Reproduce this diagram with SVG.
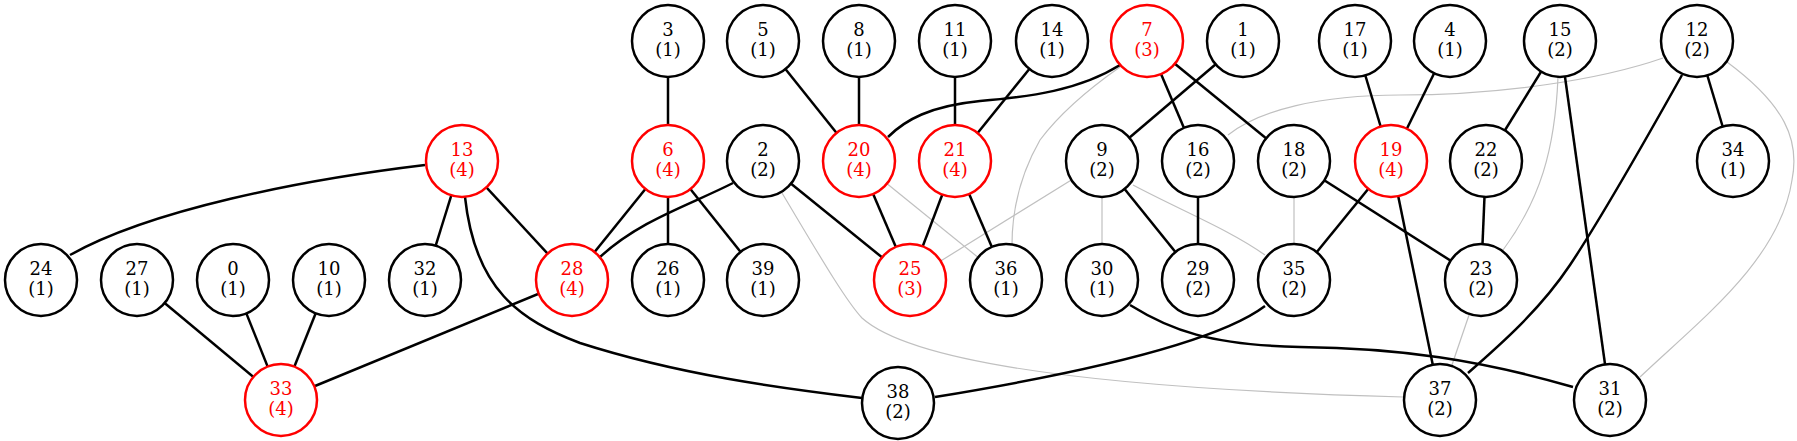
<svg xmlns="http://www.w3.org/2000/svg" width="1797" height="441" viewBox="0 0 1797 441">
<style>
.e{fill:none;stroke:#000;stroke-width:2.5}
.g{fill:none;stroke:#c0c0c0;stroke-width:1.2}
.n circle{fill:#fff;stroke:#000;stroke-width:2.5}
.n text{font-family:"DejaVu Serif",serif;font-size:18px;text-anchor:middle;fill:#000}
.r circle{stroke:#f00}
.r text{fill:#f00}
</style>
<rect width="1797" height="441" fill="#fff"/>
<g id="edges">
<path class="g" d="M1663,58 C1600,80 1500,95 1400,95 C1320,95 1260,110 1228,135"/>
<path class="g" d="M1727,62 C1785,105 1800,140 1792,180 C1780,260 1700,320 1640,377"/>
<path class="g" d="M1558,77 C1555,150 1540,200 1503,250"/>
<path class="g" d="M1481,280 L1440,400"/>
<path class="g" d="M782,193 C815,248 845,300 862,318 C920,370 1150,390 1403,397"/>
<path class="g" d="M1120,67 C1080,95 1055,120 1040,140 C1020,175 1012,210 1012,245"/>
<path class="g" d="M859,161 L1006,280"/>
<path class="g" d="M1102,161 L910,280"/>
<path class="g" d="M1102,161 L1102,280"/>
<path class="g" d="M1133,185 C1180,210 1230,230 1265,255"/>
<path class="g" d="M1294,161 L1294,280"/>
<path class="e" d="M70,255 C150,210 300,180 425,165"/>
<path class="e" d="M462,161 L425,280"/>
<path class="e" d="M462,161 L572,280"/>
<path class="e" d="M465,197 C475,290 520,320 580,343 C680,375 780,388 862,398"/>
<path class="e" d="M137,280 L281,400"/>
<path class="e" d="M233,280 L281,400"/>
<path class="e" d="M329,280 L281,400"/>
<path class="e" d="M572,280 L281,400"/>
<path class="e" d="M668,41 L668,161"/>
<path class="e" d="M668,161 L572,280"/>
<path class="e" d="M668,161 L668,280"/>
<path class="e" d="M668,161 L763,280"/>
<path class="e" d="M733,183 C690,205 640,220 600,257"/>
<path class="e" d="M763,161 L910,280"/>
<path class="e" d="M763,41 L859,161"/>
<path class="e" d="M859,41 L859,161"/>
<path class="e" d="M859,161 L910,280"/>
<path class="e" d="M1120,65 C1080,90 1030,97 980,101 C930,106 905,120 888,137"/>
<path class="e" d="M955,41 L955,161"/>
<path class="e" d="M1052,41 L955,161"/>
<path class="e" d="M955,161 L910,280"/>
<path class="e" d="M955,161 L1006,280"/>
<path class="e" d="M1147,41 L1198,161"/>
<path class="e" d="M1147,41 L1294,161"/>
<path class="e" d="M1243,41 L1102,161"/>
<path class="e" d="M1102,161 L1198,280"/>
<path class="e" d="M1198,161 L1198,280"/>
<path class="e" d="M1294,161 L1481,280"/>
<path class="e" d="M1391,161 L1294,280"/>
<path class="e" d="M1355,41 L1391,161"/>
<path class="e" d="M1450,41 L1391,161"/>
<path class="e" d="M1391,161 L1440,400"/>
<path class="e" d="M1560,41 L1486,161"/>
<path class="e" d="M1486,161 L1481,280"/>
<path class="e" d="M1560,41 L1610,400"/>
<path class="e" d="M1682,75 C1640,150 1600,220 1570,265 C1540,310 1500,345 1468,373"/>
<path class="e" d="M1697,41 L1733,161"/>
<path class="e" d="M1130,305 C1170,330 1210,345 1300,347 C1400,348 1480,360 1573,387"/>
<path class="e" d="M1265,306 C1220,340 1100,370 935,397"/>
</g>
<g id="n0" class="n"><circle cx="233" cy="280" r="36"/><text x="233" y="275">0</text><text x="233" y="294.5">(1)</text></g>
<g id="n1" class="n"><circle cx="1243" cy="41" r="36"/><text x="1243" y="36">1</text><text x="1243" y="55.5">(1)</text></g>
<g id="n2" class="n"><circle cx="763" cy="161" r="36"/><text x="763" y="156">2</text><text x="763" y="175.5">(2)</text></g>
<g id="n3" class="n"><circle cx="668" cy="41" r="36"/><text x="668" y="36">3</text><text x="668" y="55.5">(1)</text></g>
<g id="n4" class="n"><circle cx="1450" cy="41" r="36"/><text x="1450" y="36">4</text><text x="1450" y="55.5">(1)</text></g>
<g id="n5" class="n"><circle cx="763" cy="41" r="36"/><text x="763" y="36">5</text><text x="763" y="55.5">(1)</text></g>
<g id="n6" class="n r"><circle cx="668" cy="161" r="36"/><text x="668" y="156">6</text><text x="668" y="175.5">(4)</text></g>
<g id="n7" class="n r"><circle cx="1147" cy="41" r="36"/><text x="1147" y="36">7</text><text x="1147" y="55.5">(3)</text></g>
<g id="n8" class="n"><circle cx="859" cy="41" r="36"/><text x="859" y="36">8</text><text x="859" y="55.5">(1)</text></g>
<g id="n9" class="n"><circle cx="1102" cy="161" r="36"/><text x="1102" y="156">9</text><text x="1102" y="175.5">(2)</text></g>
<g id="n10" class="n"><circle cx="329" cy="280" r="36"/><text x="329" y="275">10</text><text x="329" y="294.5">(1)</text></g>
<g id="n11" class="n"><circle cx="955" cy="41" r="36"/><text x="955" y="36">11</text><text x="955" y="55.5">(1)</text></g>
<g id="n12" class="n"><circle cx="1697" cy="41" r="36"/><text x="1697" y="36">12</text><text x="1697" y="55.5">(2)</text></g>
<g id="n13" class="n r"><circle cx="462" cy="161" r="36"/><text x="462" y="156">13</text><text x="462" y="175.5">(4)</text></g>
<g id="n14" class="n"><circle cx="1052" cy="41" r="36"/><text x="1052" y="36">14</text><text x="1052" y="55.5">(1)</text></g>
<g id="n15" class="n"><circle cx="1560" cy="41" r="36"/><text x="1560" y="36">15</text><text x="1560" y="55.5">(2)</text></g>
<g id="n16" class="n"><circle cx="1198" cy="161" r="36"/><text x="1198" y="156">16</text><text x="1198" y="175.5">(2)</text></g>
<g id="n17" class="n"><circle cx="1355" cy="41" r="36"/><text x="1355" y="36">17</text><text x="1355" y="55.5">(1)</text></g>
<g id="n18" class="n"><circle cx="1294" cy="161" r="36"/><text x="1294" y="156">18</text><text x="1294" y="175.5">(2)</text></g>
<g id="n19" class="n r"><circle cx="1391" cy="161" r="36"/><text x="1391" y="156">19</text><text x="1391" y="175.5">(4)</text></g>
<g id="n20" class="n r"><circle cx="859" cy="161" r="36"/><text x="859" y="156">20</text><text x="859" y="175.5">(4)</text></g>
<g id="n21" class="n r"><circle cx="955" cy="161" r="36"/><text x="955" y="156">21</text><text x="955" y="175.5">(4)</text></g>
<g id="n22" class="n"><circle cx="1486" cy="161" r="36"/><text x="1486" y="156">22</text><text x="1486" y="175.5">(2)</text></g>
<g id="n23" class="n"><circle cx="1481" cy="280" r="36"/><text x="1481" y="275">23</text><text x="1481" y="294.5">(2)</text></g>
<g id="n24" class="n"><circle cx="41" cy="280" r="36"/><text x="41" y="275">24</text><text x="41" y="294.5">(1)</text></g>
<g id="n25" class="n r"><circle cx="910" cy="280" r="36"/><text x="910" y="275">25</text><text x="910" y="294.5">(3)</text></g>
<g id="n26" class="n"><circle cx="668" cy="280" r="36"/><text x="668" y="275">26</text><text x="668" y="294.5">(1)</text></g>
<g id="n27" class="n"><circle cx="137" cy="280" r="36"/><text x="137" y="275">27</text><text x="137" y="294.5">(1)</text></g>
<g id="n28" class="n r"><circle cx="572" cy="280" r="36"/><text x="572" y="275">28</text><text x="572" y="294.5">(4)</text></g>
<g id="n29" class="n"><circle cx="1198" cy="280" r="36"/><text x="1198" y="275">29</text><text x="1198" y="294.5">(2)</text></g>
<g id="n30" class="n"><circle cx="1102" cy="280" r="36"/><text x="1102" y="275">30</text><text x="1102" y="294.5">(1)</text></g>
<g id="n31" class="n"><circle cx="1610" cy="400" r="36"/><text x="1610" y="395">31</text><text x="1610" y="414.5">(2)</text></g>
<g id="n32" class="n"><circle cx="425" cy="280" r="36"/><text x="425" y="275">32</text><text x="425" y="294.5">(1)</text></g>
<g id="n33" class="n r"><circle cx="281" cy="400" r="36"/><text x="281" y="395">33</text><text x="281" y="414.5">(4)</text></g>
<g id="n34" class="n"><circle cx="1733" cy="161" r="36"/><text x="1733" y="156">34</text><text x="1733" y="175.5">(1)</text></g>
<g id="n35" class="n"><circle cx="1294" cy="280" r="36"/><text x="1294" y="275">35</text><text x="1294" y="294.5">(2)</text></g>
<g id="n36" class="n"><circle cx="1006" cy="280" r="36"/><text x="1006" y="275">36</text><text x="1006" y="294.5">(1)</text></g>
<g id="n37" class="n"><circle cx="1440" cy="400" r="36"/><text x="1440" y="395">37</text><text x="1440" y="414.5">(2)</text></g>
<g id="n38" class="n"><circle cx="898" cy="403" r="36"/><text x="898" y="398">38</text><text x="898" y="417.5">(2)</text></g>
<g id="n39" class="n"><circle cx="763" cy="280" r="36"/><text x="763" y="275">39</text><text x="763" y="294.5">(1)</text></g>
</svg>
